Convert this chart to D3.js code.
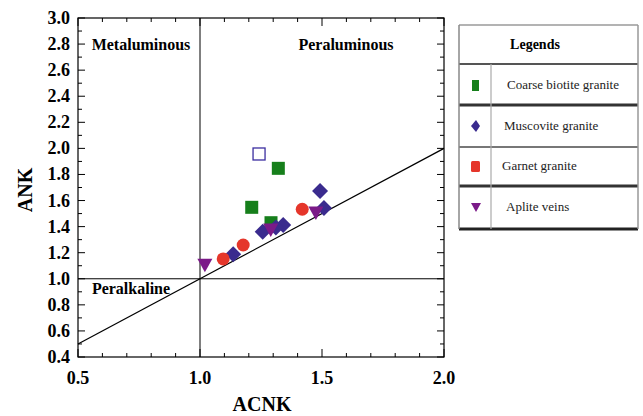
<!DOCTYPE html>
<html><head><meta charset="utf-8">
<script src="https://cdn.jsdelivr.net/npm/d3@7"></script>
<style>html,body{margin:0;padding:0;background:#fff;}svg{display:block;} text{font-family:"Liberation Serif","DejaVu Serif",serif;}</style>
</head><body>
<svg id="chart" width="643" height="416"></svg>
<script>
// ---- data ----
const xTickLabels = ["0.5","1.0","1.5","2.0"];
const yTickLabels = ["0.4","0.6","0.8","1.0","1.2","1.4","1.6","1.8","2.0","2.2","2.4","2.6","2.8","3.0"];
const openSquare = [[1.242, 1.957]];
const coarseBiotite = [[1.321, 1.847],[1.212, 1.548],[1.291, 1.43]];
const muscovite = [[1.492, 1.673],[1.508, 1.543],[1.341, 1.412],[1.311, 1.394],[1.257, 1.361],[1.136, 1.188]];
const garnet = [[1.419, 1.533],[1.177, 1.259],[1.095, 1.152]];
const aplite = [[1.475, 1.52],[1.290, 1.389],[1.020, 1.119]];
const legendNames = ["Coarse biotite granite","Muscovite granite","Garnet granite","Aplite veins"];
const colors = {green:"#167f1b", blue:"#3a2b8e", red:"#e5362b", purple:"#7b1a88", open:"#3b2ea0"};

const svg = d3.select("#chart");
const x = d3.scaleLinear().domain([0.5, 2.0]).range([78, 444]);
const y = d3.scaleLinear().domain([0.4, 3.0]).range([357, 18]);

// frame
svg.append("rect").attr("x", x(0.5)).attr("y", y(3.0)).attr("width", x(2.0)-x(0.5)).attr("height", y(0.4)-y(3.0))
  .attr("fill","none").attr("stroke","#000").attr("stroke-width",1.2);

// ticks (inward, all sides)
const xt = d3.range(5, 21).map(v => v/10);
const yt = d3.range(4, 31).map(v => v/10);
const g = svg.append("g").attr("stroke","#000").attr("stroke-width",1);
xt.forEach(v => {
  const major = Math.abs(v*2 - Math.round(v*2)) < 1e-6;
  const L = major ? 8 : 4;
  g.append("line").attr("x1",x(v)).attr("x2",x(v)).attr("y1",y(0.4)).attr("y2",y(0.4)-L);
  g.append("line").attr("x1",x(v)).attr("x2",x(v)).attr("y1",y(3.0)).attr("y2",y(3.0)+L);
});
yt.forEach((v,i) => {
  const major = i % 2 === 0;
  const L = major ? 7 : 4;
  g.append("line").attr("x1",x(0.5)).attr("x2",x(0.5)+L).attr("y1",y(v)).attr("y2",y(v));
  g.append("line").attr("x1",x(2.0)).attr("x2",x(2.0)-L).attr("y1",y(v)).attr("y2",y(v));
});

// tick labels
xTickLabels.forEach(t => {
  svg.append("text").attr("x", x(+t)).attr("y", 384).attr("text-anchor","middle")
    .attr("font-weight","bold").attr("font-size",18).text(t);
});
yTickLabels.forEach(t => {
  svg.append("text").attr("x", 70).attr("y", y(+t)+6).attr("text-anchor","end")
    .attr("font-weight","bold").attr("font-size",18).text(t);
});

// axis titles
svg.append("text").attr("x", 262).attr("y", 411).attr("text-anchor","middle")
  .attr("font-weight","bold").attr("font-size",20).text("ACNK");
svg.append("text").attr("transform","translate(32,190) rotate(-90)").attr("text-anchor","middle")
  .attr("font-weight","bold").attr("font-size",20).text("ANK");

// division lines
svg.append("line").attr("x1",x(1.0)).attr("x2",x(1.0)).attr("y1",y(3.0)).attr("y2",y(0.4)).attr("stroke","#000").attr("stroke-width",1);
svg.append("line").attr("x1",x(0.5)).attr("x2",x(2.0)).attr("y1",y(1.0)).attr("y2",y(1.0)).attr("stroke","#000").attr("stroke-width",1);
svg.append("line").attr("x1",x(0.5)).attr("x2",x(2.0)).attr("y1",y(0.5)).attr("y2",y(2.0)).attr("stroke","#000").attr("stroke-width",1.2);

// region labels
[["Metaluminous",141,50],["Peraluminous",346,50],["Peralkaline",131,294]].forEach(([t,px,py]) => {
  svg.append("text").attr("x",px).attr("y",py).attr("text-anchor","middle")
    .attr("font-weight","bold").attr("font-size",16).text(t);
});

// markers
const sq = 13, dm = 8, cr = 6.5;
function downTri(cx, cy, s) {
  const h = s*0.9;
  return `M${cx-s/2},${cy-h/3}L${cx+s/2},${cy-h/3}L${cx},${cy+2*h/3}Z`;
}
svg.selectAll(".open").data(openSquare).enter().append("rect")
  .attr("x", d => x(d[0])-sq/2+0.5).attr("y", d => y(d[1])-sq/2+0.5).attr("width",sq-1).attr("height",sq-1)
  .attr("fill","#fff").attr("stroke",colors.open).attr("stroke-width",1.3);
svg.selectAll(".cb").data(coarseBiotite).enter().append("rect")
  .attr("x", d => x(d[0])-sq/2).attr("y", d => y(d[1])-sq/2).attr("width",sq).attr("height",sq)
  .attr("fill",colors.green);
svg.selectAll(".mg").data(muscovite).enter().append("path")
  .attr("d", d => { const cx=x(d[0]), cy=y(d[1]); return `M${cx},${cy-dm}L${cx+dm},${cy}L${cx},${cy+dm}L${cx-dm},${cy}Z`; })
  .attr("fill",colors.blue);
svg.selectAll(".gg").data(garnet).enter().append("circle")
  .attr("cx", d => x(d[0])).attr("cy", d => y(d[1])).attr("r",cr).attr("fill",colors.red);
svg.selectAll(".av").data(aplite).enter().append("path")
  .attr("d", d => downTri(x(d[0]), y(d[1]), 15)).attr("fill",colors.purple);

// legend table
const L = svg.append("g");
const lx0 = 459, lx1 = 638, ldiv = 491;
const rowsY = [25, 64, 105, 147, 186, 229];
const rowW = [1.5, 2, 3, 2, 3, 3];
const rowC = ["#9a9a9a","#555","#333","#777","#333","#222"];
rowsY.forEach((yy,i) => L.append("line").attr("x1",lx0).attr("x2",lx1).attr("y1",yy).attr("y2",yy)
  .attr("stroke",rowC[i]).attr("stroke-width",rowW[i]));
L.append("line").attr("x1",lx0).attr("x2",lx0).attr("y1",25).attr("y2",229).attr("stroke","#888").attr("stroke-width",1.5);
L.append("line").attr("x1",lx1).attr("x2",lx1).attr("y1",25).attr("y2",229).attr("stroke","#999").attr("stroke-width",1.5);
L.append("line").attr("x1",ldiv).attr("x2",ldiv).attr("y1",64).attr("y2",229).attr("stroke","#aaa").attr("stroke-width",1.2);
L.append("text").attr("x",535).attr("y",49).attr("text-anchor","middle")
  .attr("font-weight","bold").attr("font-size",14).text("Legends");
const rowMid = [85, 126, 166, 207];
const textX = [507, 504, 502, 506];
legendNames.forEach((n,i) => {
  L.append("text").attr("x",textX[i]).attr("y",rowMid[i]+4)
    .attr("font-size",13).attr("fill","#222").text(n);
});
L.append("rect").attr("x",472).attr("y",rowMid[0]-5).attr("width",7).attr("height",11).attr("fill",colors.green);
L.append("path").attr("d",`M476,${rowMid[1]-6}L480,${rowMid[1]}L476,${rowMid[1]+6}L471,${rowMid[1]}Z`).attr("fill",colors.blue);
L.append("rect").attr("x",471).attr("y",rowMid[2]-5).attr("width",9).attr("height",11).attr("rx",1.5).attr("fill",colors.red);
L.append("path").attr("d",`M471,${rowMid[3]-4}L481,${rowMid[3]-4}L476,${rowMid[3]+5}Z`).attr("fill",colors.purple);
</script>
</body></html>
